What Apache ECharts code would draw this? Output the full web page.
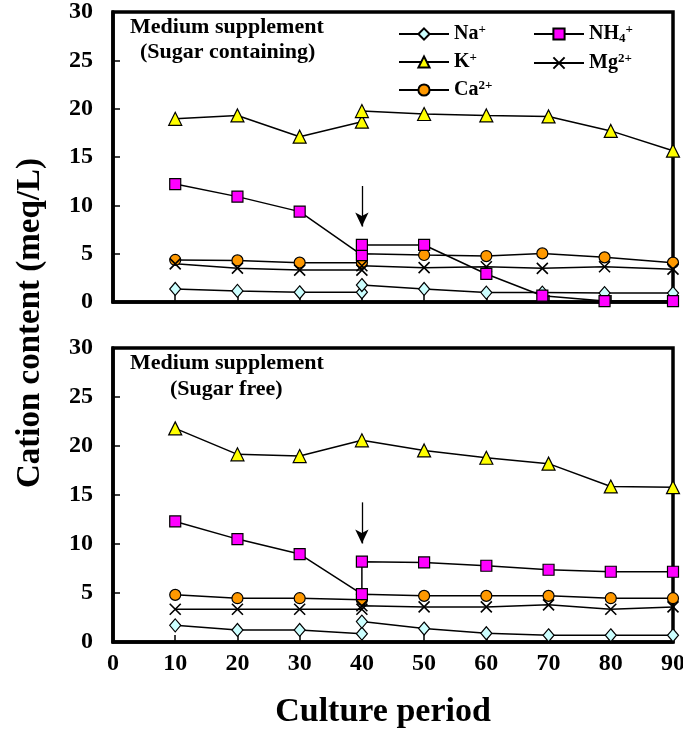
<!DOCTYPE html>
<html>
<head>
<meta charset="utf-8">
<script src="https://cdn.jsdelivr.net/npm/echarts@6/dist/echarts.min.js"></script>
<style>html,body{margin:0;padding:0;background:#fff;}#c{width:683px;height:733px;}</style>
</head>
<body>
<div id="c"></div>
<script>
// ---- data: [culture period, meq/L] ----
const seriesNames = ['Na+', 'NH4+', 'K+', 'Mg2+', 'Ca2+'];
const xTicks = [0, 10, 20, 30, 40, 50, 60, 70, 80, 90];
const yTicks = [0, 5, 10, 15, 20, 25, 30];

// Sugar containing (top panel)
const topNa  = [[10,1.35],[20,1.15],[30,1.0],[40,1.0],[40,1.75],[50,1.35],[60,0.97],[69,0.97],[79,0.92],[90,0.92]];
const topNH4 = [[10,12.2],[20,10.9],[30,9.35],[40,4.85],[40,5.9],[50,5.9],[60,2.9],[69,0.65],[79,0.1],[90,0.1]];
const topK   = [[10,18.95],[20,19.3],[30,17.1],[40,18.65],[40,19.75],[50,19.45],[60,19.3],[70,19.2],[80,17.7],[90,15.65]];
const topMg  = [[10,3.95],[20,3.5],[30,3.3],[40,3.3],[40,3.75],[50,3.55],[60,3.65],[69,3.48],[79,3.65],[90,3.4]];
const topCa  = [[10,4.35],[20,4.3],[30,4.07],[40,4.07],[40,5.0],[50,4.86],[60,4.75],[69,5.03],[79,4.62],[90,4.07]];
const topArrow = [12.0, 7.8];

// Sugar free (bottom panel)
const botNa  = [[10,1.7],[20,1.23],[30,1.23],[40,0.85],[40,2.08],[50,1.37],[60,0.89],[70,0.68],[80,0.68],[90,0.68]];
const botNH4 = [[10,12.3],[20,10.5],[30,8.97],[40,4.88],[40,8.2],[50,8.12],[60,7.78],[70,7.37],[80,7.17],[90,7.17]];
const botK   = [[10,21.8],[20,19.15],[30,18.97],[40,20.58],[50,19.55],[60,18.8],[70,18.2],[80,15.87],[90,15.8]];
const botMg  = [[10,3.34],[20,3.34],[30,3.34],[40,3.34],[40,3.7],[50,3.58],[60,3.58],[70,3.79],[80,3.34],[90,3.58]];
const botCa  = [[10,4.81],[20,4.47],[30,4.47],[40,4.3],[40,4.88],[50,4.71],[60,4.71],[70,4.71],[80,4.47],[90,4.47]];
const botArrow = [14.25, 10.05];

// ---- styles ----
const FONT = 'Liberation Serif';
const CROSS = 'path://M0,0L10,10M10,0L0,10';
const styleOf = {
  'Na+':  {symbol: 'diamond', symbolSize: [11, 13], color: '#ccffff'},
  'NH4+': {symbol: 'rect', symbolSize: 11, color: '#ff00ff'},
  'K+':   {symbol: 'triangle', symbolSize: 13, color: '#ffff00'},
  'Mg2+': {symbol: CROSS, symbolSize: 11, color: '#000'},
  'Ca2+': {symbol: 'circle', symbolSize: 11, color: '#ff9900'}
};

function mkSeries(name, data, gi, arrow) {
  const st = styleOf[name];
  const s = {
    type: 'line', name: name, data: data,
    xAxisIndex: gi, yAxisIndex: gi,
    symbol: st.symbol, symbolSize: st.symbolSize,
    showAllSymbol: true, clip: false, animation: false,
    itemStyle: {color: st.color, borderColor: '#000', borderWidth: name === 'Mg2+' ? 1.6 : 1.2},
    lineStyle: {color: '#000', width: 1.5},
    emphasis: {disabled: true}
  };
  if (arrow) {
    s.markLine = {
      silent: true, animation: false,
      symbol: ['none', 'arrow'], symbolSize: [10, 14],
      lineStyle: {color: '#000', width: 1.3, type: 'solid'},
      label: {show: false},
      data: [[{coord: [40, arrow[0]]}, {coord: [40, arrow[1]]}]]
    };
  }
  return s;
}

const series = [
  mkSeries('Na+', topNa, 0), mkSeries('Ca2+', topCa, 0), mkSeries('Mg2+', topMg, 0),
  mkSeries('NH4+', topNH4, 0, topArrow), mkSeries('K+', topK, 0),
  mkSeries('Na+', botNa, 1), mkSeries('Ca2+', botCa, 1), mkSeries('Mg2+', botMg, 1),
  mkSeries('NH4+', botNH4, 1, botArrow), mkSeries('K+', botK, 1)
];

const legendFmt = {
  'Na+': '{b|Na}{sup|+}',
  'NH4+': '{b|NH}{sub|4}{sup|+}',
  'K+': '{b|K}{sup|+}',
  'Mg2+': '{b|Mg}{sup|2+}',
  'Ca2+': '{b|Ca}{sup|2+}'
};
const legendText = {
  color: '#000',
  rich: {
    b: {fontFamily: FONT, fontWeight: 'bold', fontSize: 20, lineHeight: 22, color: '#000'},
    sup: {fontFamily: FONT, fontWeight: 'bold', fontSize: 13, lineHeight: 10, verticalAlign: 'top', color: '#000'},
    sub: {fontFamily: FONT, fontWeight: 'bold', fontSize: 13, lineHeight: 10, verticalAlign: 'bottom', color: '#000'}
  }
};
function mkLegend(left, names) {
  return {
    left: left, top: 23, orient: 'vertical', data: names,
    itemWidth: 50, itemHeight: 14, itemGap: 7, padding: 0,
    selectedMode: false,
    formatter: n => legendFmt[n],
    textStyle: legendText
  };
}

function yAxis(gi) {
  return {
    type: 'value', gridIndex: gi, min: 0, max: 30, interval: 5,
    axisLine: {show: true, lineStyle: {color: '#000', width: 3.5}},
    axisTick: {show: true, inside: true, length: 7, lineStyle: {color: '#000', width: 1.5}},
    axisLabel: {color: '#000', fontFamily: FONT, fontWeight: 'bold', fontSize: 24, margin: 20,
      formatter: v => yTicks.includes(v) ? String(v) : ''},
    splitLine: {show: false}
  };
}
function xAxis(gi, showLabel) {
  return {
    type: 'value', gridIndex: gi, min: 0, max: 90, interval: 10,
    axisLine: {show: true, onZero: false, lineStyle: {color: '#000', width: 3.5}},
    axisTick: {show: true, inside: true, length: 7, lineStyle: {color: '#000', width: 1.5}},
    axisLabel: {show: showLabel, color: '#000', fontFamily: FONT, fontWeight: 'bold', fontSize: 24, margin: 10,
      formatter: v => xTicks.includes(v) ? String(v) : ''},
    splitLine: {show: false}
  };
}

const txt = (x, y, text, size, extra) => Object.assign({
  type: 'text', x: x, y: y, silent: true,
  style: Object.assign({text: text, fill: '#000', font: 'bold ' + size + 'px "' + FONT + '"',
    textAlign: 'left', textVerticalAlign: 'middle'}, extra || {})
});

const option = {
  animation: false,
  backgroundColor: '#fff',
  grid: [
    {left: 113, top: 12, width: 560, height: 290, show: true, borderColor: '#000', borderWidth: 3.5,
      backgroundColor: 'transparent', containLabel: false, outerBoundsMode: 'none'},
    {left: 113, top: 348, width: 560, height: 294, show: true, borderColor: '#000', borderWidth: 3.5,
      backgroundColor: 'transparent', containLabel: false, outerBoundsMode: 'none'}
  ],
  xAxis: [xAxis(0, false), xAxis(1, true)],
  yAxis: [yAxis(0), yAxis(1)],
  legend: [mkLegend(398, ['Na+', 'K+', 'Ca2+']), mkLegend(533, ['NH4+', 'Mg2+'])],
  series: series,
  graphic: [
    txt(130, 27, 'Medium supplement', 22),
    txt(140, 52, '(Sugar containing)', 22),
    txt(130, 363, 'Medium supplement', 22),
    txt(170, 389, '(Sugar free)', 22),
    {type: 'text', x: 30, y: 323, rotation: Math.PI / 2, silent: true,
      style: {text: 'Cation content (meq/L)', fill: '#000', font: 'bold 33px "' + FONT + '"', textAlign: 'center', textVerticalAlign: 'middle'}},
    txt(383, 712, 'Culture period', 34, {textAlign: 'center'})
  ]
};

const chart = echarts.init(document.getElementById('c'), null, {renderer: 'canvas'});
chart.setOption(option);
</script>
</body>
</html>
